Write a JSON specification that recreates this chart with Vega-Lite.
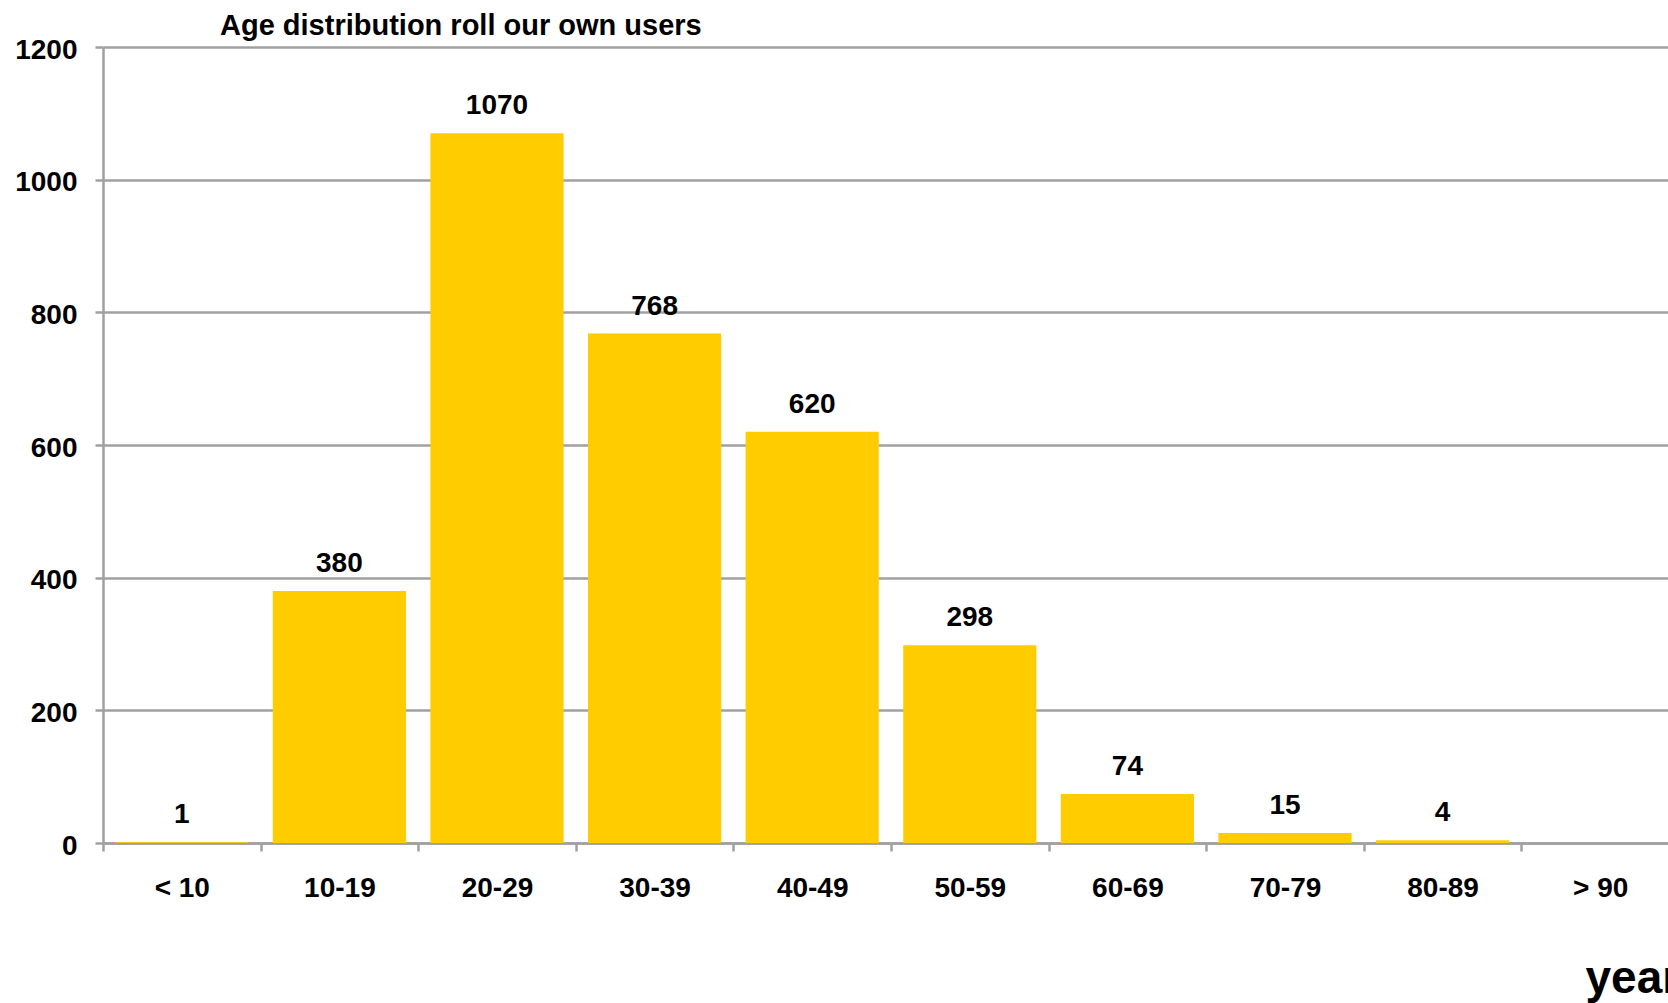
{
  "$schema": "https://vega.github.io/schema/vega-lite/v6.json",
  "width": 1576,
  "height": 796,
  "autosize": {"type": "none"},
  "padding": {"left": 103, "top": 47, "right": -11, "bottom": 160},
  "background": "white",
  "title": {
    "text": "Age distribution roll our own users",
    "anchor": "start",
    "frame": "group",
    "dx": 117,
    "offset": -5,
    "font": "Liberation Sans",
    "fontSize": 29,
    "fontWeight": "bold",
    "color": "#000000"
  },
  "data": {
    "values": [
      {"age": "< 10", "users": 1},
      {"age": "10-19", "users": 380},
      {"age": "20-29", "users": 1070},
      {"age": "30-39", "users": 768},
      {"age": "40-49", "users": 620},
      {"age": "50-59", "users": 298},
      {"age": "60-69", "users": 74},
      {"age": "70-79", "users": 15},
      {"age": "80-89", "users": 4}
    ]
  },
  "encoding": {
    "x": {
      "field": "age",
      "type": "nominal",
      "sort": null,
      "scale": {
        "domain": ["< 10", "10-19", "20-29", "30-39", "40-49", "50-59", "60-69", "70-79", "80-89", "> 90"],
        "paddingInner": 0,
        "paddingOuter": 0
      },
      "axis": {
        "title": "years",
        "titleX": 1482,
        "titleY": 149.5,
        "titleAlign": "left",
        "titleBaseline": "alphabetic",
        "titleFont": "Liberation Sans",
        "titleFontSize": 46,
        "titleFontWeight": "bold",
        "titleColor": "#000000",
        "labelAngle": 0,
        "labelFont": "Liberation Sans",
        "labelFontSize": 28,
        "labelFontWeight": "bold",
        "labelColor": "#000000",
        "labelBaseline": "alphabetic",
        "labelPadding": 45,
        "tickBand": "extent",
        "tickSize": 8,
        "tickWidth": 2.5,
        "tickColor": "#A0A0A0",
        "domainColor": "#A0A0A0",
        "domainWidth": 2.5,
        "grid": false
      }
    },
    "y": {
      "field": "users",
      "type": "quantitative",
      "scale": {"domain": [0, 1200], "nice": false},
      "axis": {
        "title": null,
        "values": [0, 200, 400, 600, 800, 1000, 1200],
        "format": "d",
        "labelFont": "Liberation Sans",
        "labelFontSize": 28,
        "labelFontWeight": "bold",
        "labelColor": "#000000",
        "labelPadding": 18,
        "labelOffset": 3,
        "tickSize": 8,
        "tickWidth": 2.5,
        "tickColor": "#A0A0A0",
        "domainColor": "#A0A0A0",
        "domainWidth": 2.5,
        "grid": true,
        "gridColor": "#A0A0A0",
        "gridWidth": 2.5,
        "gridOpacity": 1
      }
    }
  },
  "layer": [
    {"mark": {"type": "bar", "color": "#FFCC00", "width": {"band": 0.845}}},
    {
      "mark": {
        "type": "text",
        "font": "Liberation Sans",
        "fontSize": 28,
        "fontWeight": "bold",
        "color": "#000000",
        "baseline": "alphabetic",
        "dy": -19
      },
      "encoding": {"text": {"field": "users", "type": "quantitative"}}
    }
  ],
  "config": {"view": {"stroke": null}}
}
